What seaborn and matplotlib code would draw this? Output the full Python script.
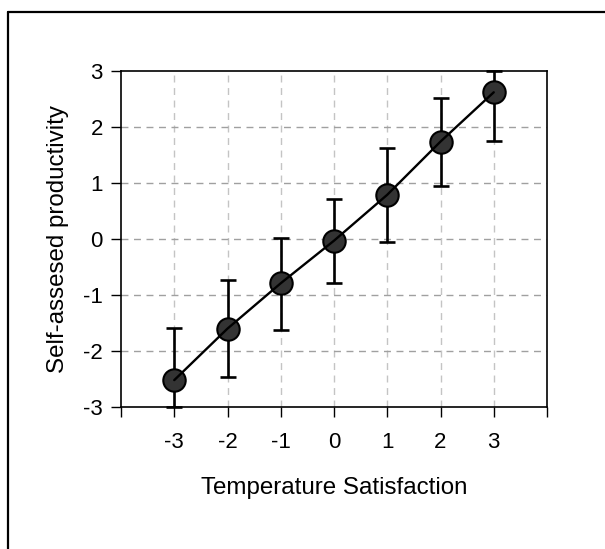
import matplotlib
matplotlib.use("Agg")
import matplotlib.pyplot as plt
import seaborn as sns
import pandas as pd
from matplotlib.lines import Line2D

# data
satisfaction = [-3, -2, -1, 0, 1, 2, 3]
productivity = [-2.52, -1.60, -0.79, -0.03, 0.79, 1.74, 2.62]
err_low = [-3.0, -2.47, -1.62, -0.79, -0.05, 0.95, 1.75]
err_high = [-1.59, -0.73, 0.01, 0.71, 1.62, 2.51, 3.0]
x_ticks = [-4, -3, -2, -1, 0, 1, 2, 3, 4]
x_ticklabels = ["", "-3", "-2", "-1", "0", "1", "2", "3", ""]
y_ticks = [-3, -2, -1, 0, 1, 2, 3]

df = pd.DataFrame({"x": satisfaction, "y": productivity,
                   "lo": err_low, "hi": err_high})

sns.set_style("white")
plt.rcParams["font.family"] = ["Liberation Sans", "DejaVu Sans"]
plt.rcParams["text.color"] = "black"
plt.rcParams["axes.labelcolor"] = "black"
plt.rcParams["xtick.color"] = "black"
plt.rcParams["ytick.color"] = "black"

fig = plt.figure(figsize=(6.05, 5.49), dpi=100)
ax = fig.add_axes([121 / 605, 142 / 549, 426 / 605, 336 / 549])

# grid
for v in x_ticks[1:-1]:
    ax.axvline(v, color="#c4c4c4", lw=1.0, dashes=(5, 4), zorder=0)
for v in y_ticks[1:-1]:
    ax.axhline(v, color="#a0a0a0", lw=1.0, dashes=(5, 4), zorder=0)

# error bars
yerr = [df["y"] - df["lo"], df["hi"] - df["y"]]
ax.errorbar(df["x"], df["y"], yerr=yerr, fmt="none", ecolor="black",
            elinewidth=1.9, capsize=6, capthick=1.9, zorder=2, clip_on=False)

# markers
sns.scatterplot(data=df, x="x", y="y", ax=ax, s=260, color="#333333",
                edgecolor="black", linewidth=1.5, zorder=3, clip_on=False)
# line
sns.lineplot(data=df, x="x", y="y", ax=ax, color="black", lw=1.7, zorder=4)

ax.set_xlim(-4, 4)
ax.set_ylim(-3, 3)
ax.set_xticks(x_ticks)
ax.set_xticklabels(x_ticklabels)
ax.set_yticks(y_ticks)
ax.set_yticklabels([str(v) for v in y_ticks])
ax.tick_params(axis="both", direction="out", length=7, width=1.0,
               color="black", labelcolor="black", labelsize=16,
               bottom=True, left=True)
ax.tick_params(axis="x", pad=11)
ax.tick_params(axis="y", pad=6)
for s in ax.spines.values():
    s.set_color("black")
    s.set_linewidth(1.2)
    s.set_visible(True)

ax.set_xlabel("Temperature Satisfaction", fontsize=17.4, labelpad=17,
              color="black")
ax.set_ylabel("Self-assesed productivity", fontsize=17.4, labelpad=10,
              color="black")

# outer frame (left and top edges visible)
x0 = 8 / 605
y0 = 1 - 12 / 549
fig.add_artist(Line2D([x0, x0], [0, y0], transform=fig.transFigure,
                      color="black", lw=1.6))
fig.add_artist(Line2D([x0, 1], [y0, y0], transform=fig.transFigure,
                      color="black", lw=1.6))

fig.savefig("out.png", dpi=100)
